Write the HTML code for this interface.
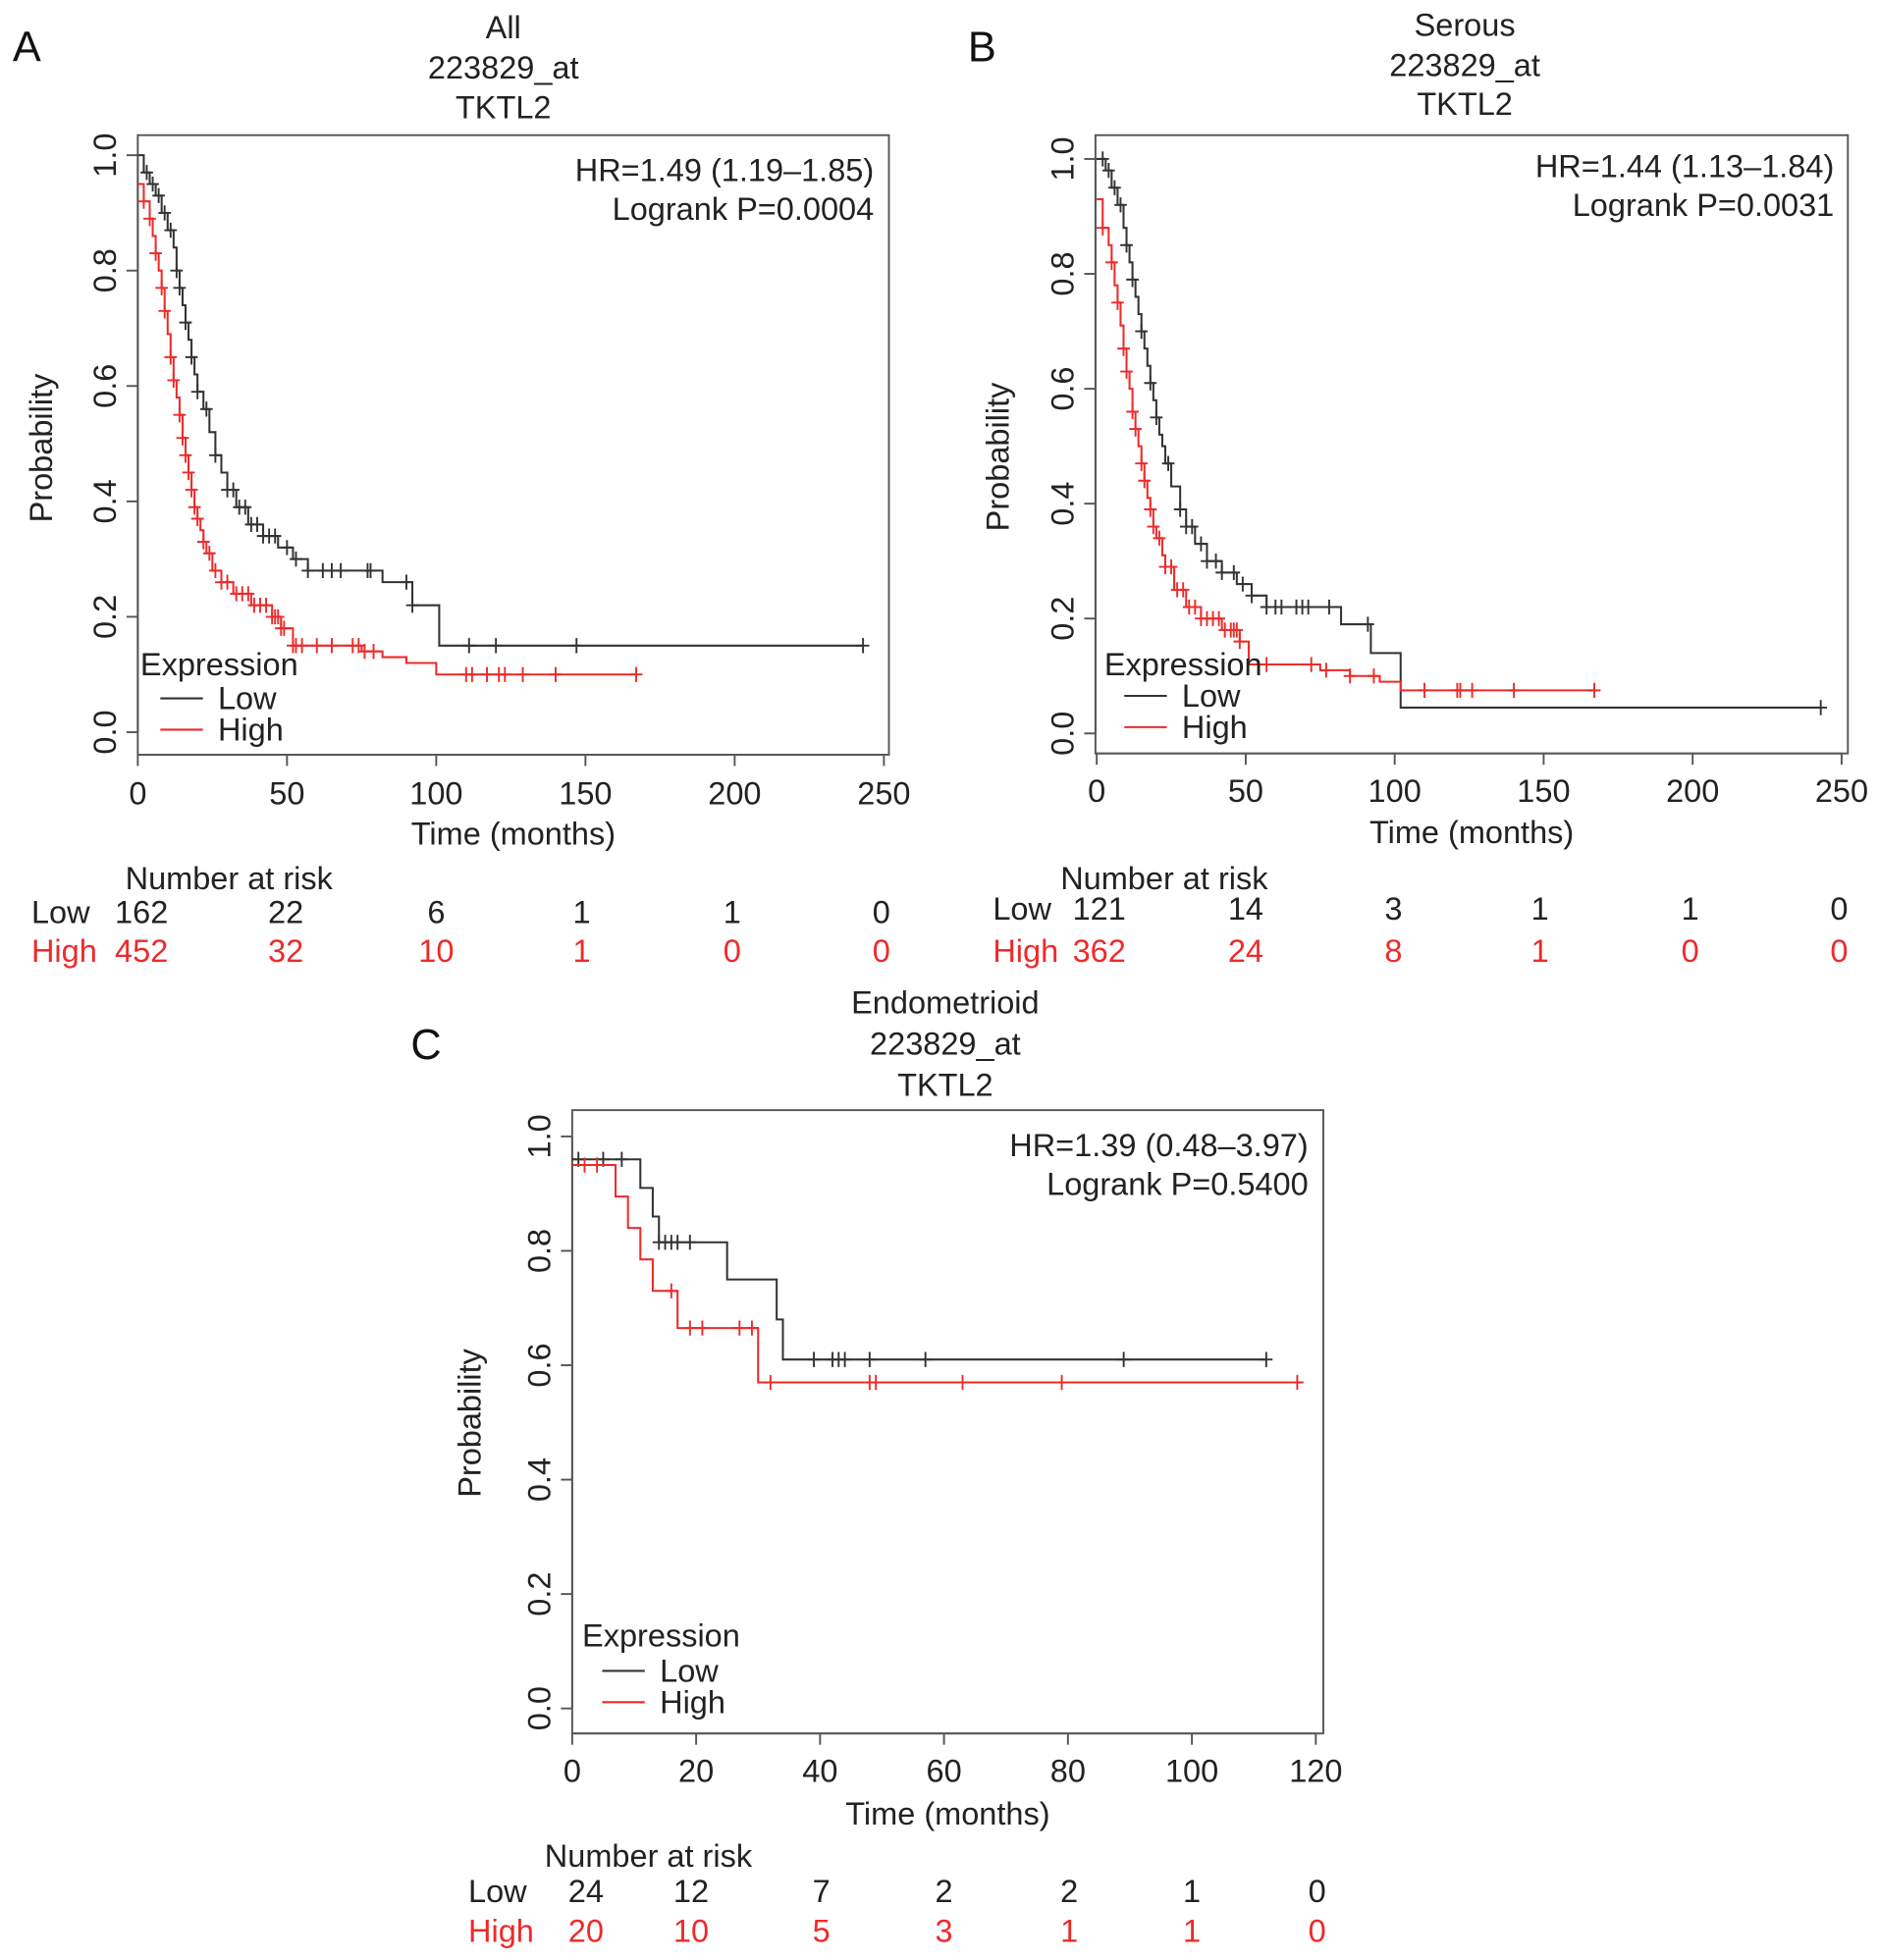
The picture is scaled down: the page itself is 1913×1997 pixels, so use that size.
<!DOCTYPE html>
<html><head><meta charset="utf-8"><style>
html,body{margin:0;padding:0;background:#fff;}
svg{display:block;font-family:"Liberation Sans",Arial,sans-serif;}
</style></head><body>
<svg id="fig" width="1913" height="1997" viewBox="0 0 1500 1566" xmlns="http://www.w3.org/2000/svg"></svg>
<script>
// ---------- Data ----------
const xTicksAB = [0, 50, 100, 150, 200, 250];
const xTicksC = [0, 20, 40, 60, 80, 100, 120];
const yTicks = [0.0, 0.2, 0.4, 0.6, 0.8, 1.0];
const yTickLabels = ["0.0", "0.2", "0.4", "0.6", "0.8", "1.0"];

const aLowTimes = [0, 2, 4, 6, 8, 10, 12, 13, 14, 15, 16, 17, 18, 19, 20, 22, 24, 26, 28, 30, 33, 37, 42, 47, 52, 57, 82, 92, 101];
const aLowSurv  = [1.0, 0.97, 0.95, 0.93, 0.9, 0.87, 0.84, 0.8, 0.77, 0.74, 0.71, 0.68, 0.65, 0.62, 0.59, 0.56, 0.52, 0.48, 0.45, 0.42, 0.39, 0.36, 0.34, 0.32, 0.30, 0.28, 0.26, 0.22, 0.15];
const aLowEnd = 243;
const aLowCens = [3, 5, 7, 9, 11, 13, 14, 16, 18, 20, 23, 26, 30, 32, 34, 36, 38, 40, 42, 44, 46, 50, 53, 57, 62, 65, 68, 77, 78, 90, 92, 111, 120, 147, 243];
const aHighTimes = [0, 2, 4, 5, 6, 7, 8, 9, 10, 11, 12, 13, 14, 15, 16, 17, 18, 19, 20, 21, 22, 23, 25, 28, 32, 38, 45, 48, 52, 75, 82, 90, 100];
const aHighSurv  = [0.95, 0.92, 0.89, 0.86, 0.83, 0.8, 0.77, 0.73, 0.69, 0.65, 0.61, 0.58, 0.55, 0.51, 0.48, 0.45, 0.42, 0.39, 0.37, 0.35, 0.33, 0.31, 0.28, 0.26, 0.24, 0.22, 0.20, 0.18, 0.15, 0.14, 0.13, 0.12, 0.10];
const aHighEnd = 167;
const aHighCens = [2, 4, 6, 8, 9, 11, 12, 14, 15, 16, 17, 18, 19, 20, 22, 24, 26, 28, 30, 33, 35, 37, 39, 41, 43, 45, 46, 47, 48, 49, 52, 53, 55, 60, 65, 72, 74, 76, 79, 110, 112, 117, 121, 123, 129, 140, 167];

const bLowTimes = [0, 3, 5, 7, 9, 10, 11, 12, 13, 14, 15, 16, 17, 18, 19, 20, 21, 22, 23, 25, 28, 30, 33, 37, 42, 47, 52, 57, 82, 92, 102];
const bLowSurv  = [1.0, 0.98, 0.95, 0.92, 0.88, 0.85, 0.82, 0.79, 0.76, 0.73, 0.7, 0.67, 0.64, 0.61, 0.58, 0.55, 0.52, 0.5, 0.47, 0.43, 0.39, 0.36, 0.33, 0.30, 0.28, 0.26, 0.24, 0.22, 0.19, 0.14, 0.045];
const bLowEnd = 243;
const bLowCens = [2, 4, 6, 8, 10, 12, 15, 18, 20, 24, 28, 30, 32, 35, 37, 40, 42, 46, 49, 52, 57, 60, 62, 67, 69, 71, 78, 91, 243];
const bHighTimes = [0, 2, 4, 5, 6, 7, 8, 9, 10, 11, 12, 13, 14, 15, 16, 17, 18, 19, 20, 22, 23, 26, 30, 35, 42, 48, 51, 75, 85, 95, 102];
const bHighSurv  = [0.93, 0.88, 0.85, 0.82, 0.78, 0.75, 0.71, 0.67, 0.63, 0.6, 0.56, 0.53, 0.5, 0.47, 0.44, 0.41, 0.39, 0.36, 0.34, 0.31, 0.29, 0.25, 0.22, 0.2, 0.18, 0.16, 0.12, 0.11, 0.10, 0.09, 0.075];
const bHighEnd = 167;
const bHighCens = [2, 5, 7, 9, 10, 12, 13, 15, 16, 18, 19, 21, 23, 25, 27, 29, 31, 33, 35, 37, 39, 41, 43, 45, 46, 47, 48, 57, 72, 77, 85, 93, 110, 121, 122, 126, 140, 167];

const cLowTimes = [0, 11, 13, 14, 25, 33, 34];
const cLowSurv  = [0.96, 0.91, 0.86, 0.815, 0.75, 0.68, 0.61];
const cLowEnd = 112;
const cLowCens = [1, 5, 8, 14, 15, 16, 17, 19, 39, 42, 43, 44, 48, 57, 89, 112];
const cHighTimes = [0, 7, 9, 11, 13, 17, 30];
const cHighSurv  = [0.95, 0.895, 0.84, 0.785, 0.73, 0.665, 0.57];
const cHighEnd = 117;
const cHighCens = [2, 4, 16, 19, 21, 27, 29, 32, 48, 49, 63, 79, 117];

const aRiskLow = ["162", "22", "6", "1", "1", "0"];
const aRiskHigh = ["452", "32", "10", "1", "0", "0"];
const bRiskLow = ["121", "14", "3", "1", "1", "0"];
const bRiskHigh = ["362", "24", "8", "1", "0", "0"];
const cRiskLow = ["24", "12", "7", "2", "2", "1", "0"];
const cRiskHigh = ["20", "10", "5", "3", "1", "1", "0"];

// ---------- Drawing ----------
const NS = "http://www.w3.org/2000/svg";
const svg = document.getElementById("fig");
const RED = "#ee2a2a", BLK = "#333";
const FS = 25.5;
function mk(tag, attrs, parent, text) {
  const e = document.createElementNS(NS, tag);
  for (const k in attrs) e.setAttribute(k, attrs[k]);
  if (text !== undefined) e.textContent = text;
  (parent || svg).appendChild(e);
  return e;
}
function txt(x, y, s, opts, parent) {
  const o = Object.assign({x: x, y: y, "font-size": FS, fill: "#222", "dominant-baseline": "central"}, opts || {});
  return mk("text", o, parent, s);
}

function panel(cfg) {
  const g = mk("g", {});
  
  
  const sx = t => cfg.x0 + (t - cfg.xmin) / (cfg.xmax - cfg.xmin) * (cfg.x1 - cfg.x0);
  const sy = v => cfg.y0 + v * (cfg.y1 - cfg.y0);
  const L = txt(cfg.letter[0], cfg.letter[1], cfg.letter[2], {"font-size": 34, fill: "#111"}, g);
  
  
  cfg.titles.forEach((s, i) => {
    const t = txt(cfg.tx, cfg.ty[i], s, {"text-anchor": "middle"}, g);
    
    
  });
  const box = mk("rect", {x: cfg.bx0, y: cfg.by0, width: cfg.bx1 - cfg.bx0, height: cfg.by1 - cfg.by0, fill: "none", stroke: "#555", "stroke-width": 1.5}, g);
  
  
  const xa = mk("g", {}, g);
  
  
  mk("line", {x1: sx(cfg.xt[0]), x2: sx(cfg.xt[cfg.xt.length - 1]), y1: cfg.by1, y2: cfg.by1, stroke: "#555", "stroke-width": 1.5}, xa);
  cfg.xt.forEach(v => {
    mk("line", {x1: sx(v), x2: sx(v), y1: cfg.by1, y2: cfg.by1 + 9, stroke: "#555", "stroke-width": 1.5}, xa);
    const t = txt(sx(v), cfg.xly, String(v), {"text-anchor": "middle"}, xa);
    
    
  });
  const xt = txt((cfg.bx0 + cfg.bx1) / 2, cfg.xtitle, "Time (months)", {"text-anchor": "middle"}, g);
  
  
  const ya = mk("g", {}, g);
  
  
  mk("line", {x1: cfg.bx0, x2: cfg.bx0, y1: sy(0), y2: sy(1), stroke: "#555", "stroke-width": 1.5}, ya);
  yTicks.forEach((v, i) => {
    mk("line", {x1: cfg.bx0 - 9, x2: cfg.bx0, y1: sy(v), y2: sy(v), stroke: "#555", "stroke-width": 1.5}, ya);
    const t = txt(0, 0, yTickLabels[i], {"text-anchor": "middle", transform: "translate(" + (cfg.bx0 - 26) + "," + sy(v) + ") rotate(-90)"}, ya);
    
    
  });
  const yt = txt(0, 0, "Probability", {"text-anchor": "middle", transform: "translate(" + cfg.ytx + "," + cfg.yty + ") rotate(-90)"}, g);
  
  
  const h1 = txt(cfg.hrx, cfg.hry[0], cfg.hr[0], {"text-anchor": "end"}, g);
  
  
  const h2 = txt(cfg.hrx, cfg.hry[1], cfg.hr[1], {"text-anchor": "end"}, g);
  
  
  function curve(times, surv, end, cens, color, name) {
    const cg = mk("g", {}, g);
    
    
    let d = "M" + sx(times[0]) + "," + sy(surv[0]);
    for (let i = 1; i < times.length; i++) d += " H" + sx(times[i]) + " V" + sy(surv[i]);
    d += " H" + sx(end);
    mk("path", {d: d, fill: "none", stroke: color, "stroke-width": 1.6}, cg);
    const stepAt = t => { let v = surv[0]; for (let i = 0; i < times.length; i++) if (times[i] <= t) v = surv[i]; return v; };
    cens.forEach(t => {
      const m = mk("path", {d: "M" + (sx(t) - 5) + "," + sy(stepAt(t)) + " h10 M" + sx(t) + "," + (sy(stepAt(t)) - 6) + " v12", stroke: color, "stroke-width": 1.5, fill: "none"}, cg);
      
      
    });
  }
  curve(cfg.low[0], cfg.low[1], cfg.low[2], cfg.low[3], BLK, "low-expression-curve");
  curve(cfg.high[0], cfg.high[1], cfg.high[2], cfg.high[3], RED, "high-expression-curve");
  const lg = mk("g", {}, g);
  
  
  txt(cfg.lgx, cfg.lgy[0], "Expression", {}, lg);
  mk("line", {x1: cfg.lgx + 16, x2: cfg.lgx + 50, y1: cfg.lgy[1], y2: cfg.lgy[1], stroke: BLK, "stroke-width": 1.6}, lg);
  const l1 = txt(cfg.lgx + 62, cfg.lgy[1], "Low", {}, lg);
  
  
  mk("line", {x1: cfg.lgx + 16, x2: cfg.lgx + 50, y1: cfg.lgy[2], y2: cfg.lgy[2], stroke: RED, "stroke-width": 1.6}, lg);
  const l2 = txt(cfg.lgx + 62, cfg.lgy[2], "High", {}, lg);
  
  
  const rg = mk("g", {}, g);
  
  
  txt(cfg.rtx, cfg.rty[0], "Number at risk", {}, rg);
  txt(cfg.rlx, cfg.rty[1], "Low", {}, rg);
  txt(cfg.rlx, cfg.rty[2], "High", {fill: RED}, rg);
  cfg.xt.forEach((v, i) => {
    const off = cfg.roff[i];
    const a = txt(sx(v) + off, cfg.rty[1], cfg.rl[i], {"text-anchor": "middle"}, rg);
    
    
    const b = txt(sx(v) + off, cfg.rty[2], cfg.rh[i], {"text-anchor": "middle", fill: RED}, rg);
    
    
  });
}

panel({name: "panel-a-all", letter: [10, 38, "A"], titles: ["All", "223829_at", "TKTL2"], tx: 402, ty: [22, 54, 86],
  bx0: 110, bx1: 710, by0: 108, by1: 603, x0: 110, x1: 706, xmin: 0, xmax: 250, y0: 585, y1: 124, xt: xTicksAB,
  xly: 634, xtitle: 666, ytx: 33, yty: 358, hrx: 698, hry: [136, 167], hr: ["HR=1.49 (1.19\u20131.85)", "Logrank P=0.0004"],
  low: [aLowTimes, aLowSurv, aLowEnd, aLowCens], high: [aHighTimes, aHighSurv, aHighEnd, aHighCens],
  lgx: 112, lgy: [531, 558, 583], rtx: 100, rty: [702, 729, 760], rlx: 25, rl: aRiskLow, rh: aRiskHigh, roff: [3, -1, 0, -3, -2, -2]});

panel({name: "panel-b-serous", letter: [773, 38, "B"], titles: ["Serous", "223829_at", "TKTL2"], tx: 1170, ty: [20, 52, 83],
  bx0: 875, bx1: 1476, by0: 108, by1: 602, x0: 876, x1: 1471, xmin: 0, xmax: 250, y0: 586, y1: 127, xt: xTicksAB,
  xly: 632, xtitle: 665, ytx: 797, yty: 365, hrx: 1465, hry: [133, 164], hr: ["HR=1.44 (1.13\u20131.84)", "Logrank P=0.0031"],
  low: [bLowTimes, bLowSurv, bLowEnd, bLowCens], high: [bHighTimes, bHighSurv, bHighEnd, bHighCens],
  lgx: 882, lgy: [531, 556, 581], rtx: 847, rty: [702, 726, 760], rlx: 793, rl: bRiskLow, rh: bRiskHigh, roff: [2, 0, -1, -3, -2, -2]});

panel({name: "panel-c-endometrioid", letter: [328, 835, "C"], titles: ["Endometrioid", "223829_at", "TKTL2"], tx: 755, ty: [801, 834, 867],
  bx0: 457, bx1: 1057, by0: 887, by1: 1385, x0: 457, x1: 1051, xmin: 0, xmax: 120, y0: 1365, y1: 908, xt: xTicksC,
  xly: 1415, xtitle: 1449, ytx: 375, yty: 1137, hrx: 1045, hry: [915, 946], hr: ["HR=1.39 (0.48\u20133.97)", "Logrank P=0.5400"],
  low: [cLowTimes, cLowSurv, cLowEnd, cLowCens], high: [cHighTimes, cHighSurv, cHighEnd, cHighCens],
  lgx: 465, lgy: [1307, 1335, 1360], rtx: 435, rty: [1483, 1511, 1543], rlx: 374, rl: cRiskLow, rh: cRiskHigh, roff: [11, -4, 1, 0, 1, 0, 1]});
</script>
</body></html>
